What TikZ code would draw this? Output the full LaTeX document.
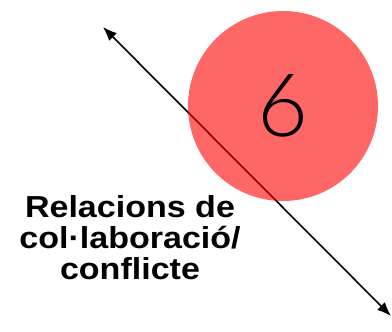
\documentclass[tikz,border=0pt]{standalone}
\usepackage{fontspec}
\setmainfont{Liberation Sans}
\newfontfamily\lightfont{Lato}[UprightFont=* Light]
\newfontfamily\labelfont{Liberation Sans}[FakeStretch=1.12]
\usetikzlibrary{arrows.meta}
\begin{document}
\begin{tikzpicture}[x=1bp,y=-1bp]
        % bounding box of the whole picture
        \useasboundingbox (0,0) rectangle (392,332);
        % the two ends of the double arrow
        \coordinate (topend)    at (103,27);
        \coordinate (bottomend) at (391,316);
        \draw[line width=1.6bp, {Latex[length=14bp,width=11bp]}-{Latex[length=14bp,width=11bp]}]
            (topend) -- (bottomend);
        % the red circle with its number, lying over the arrow
        \node[circle, fill=red, fill opacity=0.6, text opacity=1, minimum size=190bp, inner sep=0pt,
              font=\lightfont\fontsize{88}{88}\selectfont] (six) at (283,106) {6};
        % the label under the circle
        \node[align=center, inner sep=0pt, font=\labelfont\bfseries\fontsize{30.5}{31}\selectfont]
            (relacions) at (130,238) {Relacions de\\col·laboració/\\conflicte};
    \end{tikzpicture}
\end{document}
